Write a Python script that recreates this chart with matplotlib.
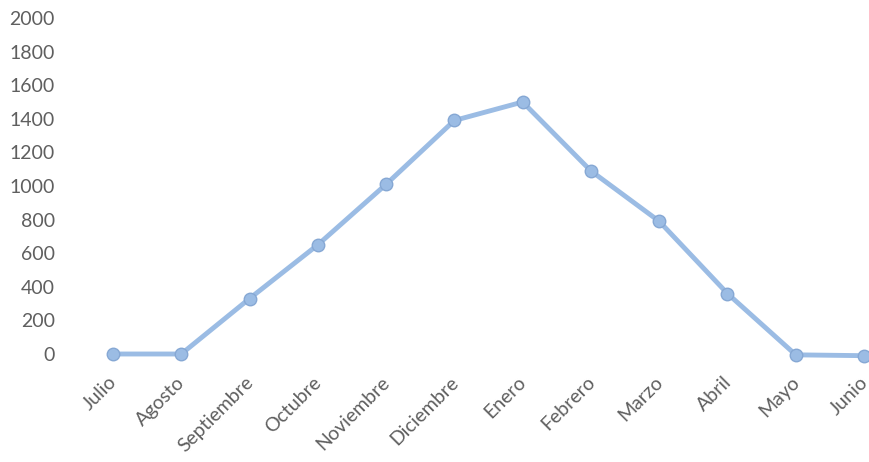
import matplotlib
matplotlib.use("Agg")
import matplotlib.pyplot as plt
from matplotlib.transforms import ScaledTranslation

months = ["Julio", "Agosto", "Septiembre", "Octubre", "Noviembre", "Diciembre",
          "Enero", "Febrero", "Marzo", "Abril", "Mayo", "Junio"]
values = [0, 0, 330, 650, 1010, 1390, 1500, 1090, 790, 360, -5, -10]
y_ticks = [0, 200, 400, 600, 800, 1000, 1200, 1400, 1600, 1800, 2000]

plt.rcParams["font.family"] = ["Lato", "DejaVu Sans"]

W, H = 870, 462
fig = plt.figure(figsize=(W / 100, H / 100), dpi=100)
left, right = 113 / W, 864 / W
bottom, top = (H - 354) / H, (H - 18) / H
ax = fig.add_axes([left, bottom, right - left, top - bottom])

x = list(range(len(months)))
ax.plot(x, values, color="#9BBCE4", linewidth=3.5, marker="o", markersize=9,
        markerfacecolor="#9BBCE4", markeredgecolor="#86A8D4", markeredgewidth=1,
        clip_on=False, zorder=3)

ax.set_xlim(0, len(months) - 1)
ax.set_ylim(0, 2000)
ax.set_yticks(y_ticks)
ax.set_yticklabels([str(v) for v in y_ticks])
ax.set_xticks(x)
ax.set_xticklabels(months, rotation=45, ha="right", rotation_mode="anchor")

for s in ax.spines.values():
    s.set_visible(False)
ax.tick_params(axis="both", length=0, colors="#5f5f5f", labelsize=14)
ax.tick_params(axis="y", pad=42)
ax.tick_params(axis="x", pad=14)
for lbl in ax.get_yticklabels():
    lbl.set_horizontalalignment("right")

# nudge the rotated month labels slightly left so the last one fits
shift = ScaledTranslation(-5 / 100, 0, fig.dpi_scale_trans)
for lbl in ax.get_xticklabels():
    lbl.set_transform(lbl.get_transform() + shift)

fig.savefig("out.png", dpi=100, facecolor="white")
